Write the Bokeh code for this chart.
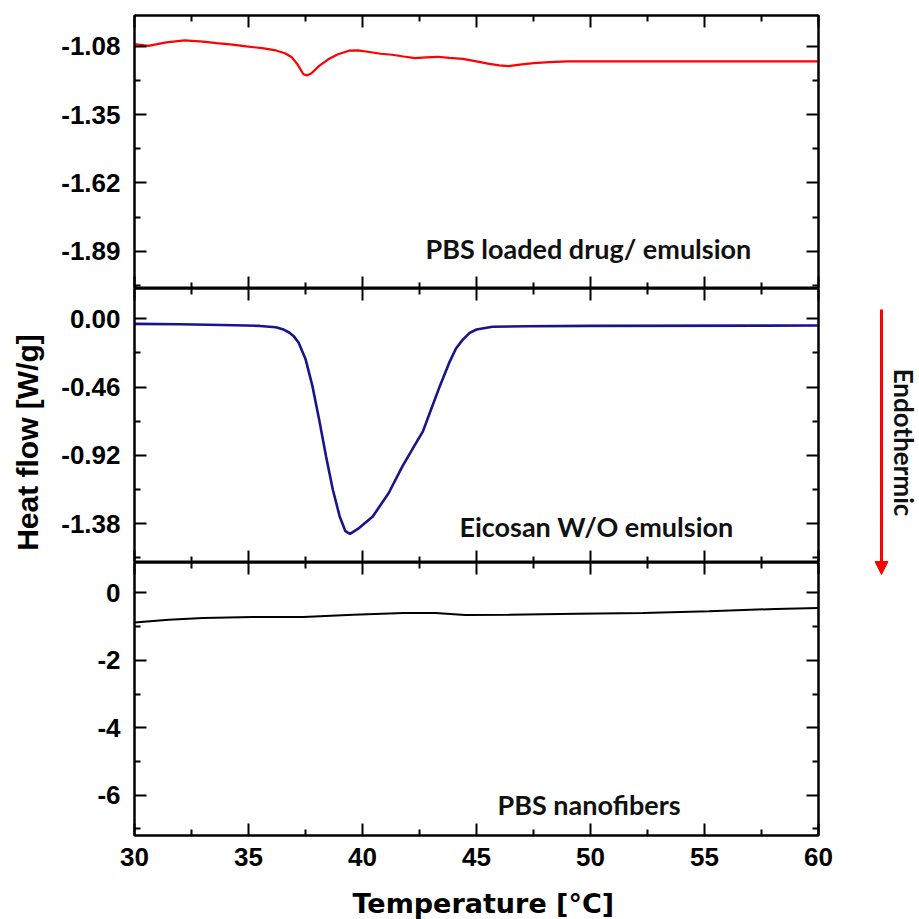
import math
from bokeh.plotting import figure
from bokeh.layouts import row, column
from bokeh.models import (FixedTicker, LinearAxis, Range1d, Label, Arrow, NormalHead,
                          PrintfTickFormatter, CustomLabelingPolicy)
from bokeh.embed import file_html
from bokeh.resources import INLINE

# ---------------- data ----------------
T_TICKS = [30, 35, 40, 45, 50, 55, 60]
T_MINOR = [32.5, 37.5, 42.5, 47.5, 52.5, 57.5]

red_T = [30.0, 30.6, 31.4, 32.2, 33.0, 33.6, 34.3, 34.9, 35.6, 36.2,
         36.6, 36.9, 37.15, 37.4, 37.55, 37.75, 38.1, 38.5, 38.9, 39.4,
         39.8, 40.3, 40.8, 41.3, 41.8, 42.3, 42.8, 43.3, 43.8, 44.4,
         45.0, 45.5, 46.0, 46.4, 46.9, 47.5, 48.2, 49.0, 50.0, 52.0,
         55.0, 58.0, 60.0]
red_H = [-1.072, -1.079, -1.065, -1.057, -1.062, -1.068, -1.074, -1.081, -1.088, -1.097,
         -1.108, -1.124, -1.152, -1.190, -1.196, -1.188, -1.158, -1.132, -1.113, -1.098,
         -1.097, -1.103, -1.110, -1.114, -1.121, -1.127, -1.124, -1.122, -1.126, -1.130,
         -1.140, -1.149, -1.156, -1.159, -1.153, -1.147, -1.143, -1.140, -1.140, -1.140,
         -1.140, -1.140, -1.140]

navy_T = [30.0, 32.0, 34.4, 35.5, 36.2, 36.5, 36.8, 37.0, 37.2, 37.5,
          37.8, 38.1, 38.4, 38.7, 39.0, 39.25, 39.45, 39.85, 40.45, 41.15,
          41.75, 42.35, 42.65, 42.95, 43.35, 43.8, 44.1, 44.4, 44.7, 45.0,
          45.7, 47.2, 50.0, 60.0]
navy_H = [-0.034, -0.037, -0.043, -0.048, -0.057, -0.070, -0.094, -0.120, -0.162, -0.270,
          -0.450, -0.679, -0.926, -1.151, -1.331, -1.430, -1.448, -1.409, -1.331, -1.173,
          -0.994, -0.836, -0.758, -0.634, -0.470, -0.297, -0.200, -0.140, -0.095, -0.072,
          -0.054, -0.050, -0.048, -0.045]

black_T = [30.0, 31.5, 33.0, 35.2, 37.4, 39.6, 41.8, 43.2, 44.5, 46.4, 49.4, 52.3, 55.2, 58.1, 60.0]
black_H = [-0.88, -0.80, -0.75, -0.72, -0.72, -0.65, -0.60, -0.60, -0.66, -0.65, -0.62, -0.60, -0.55, -0.48, -0.45]

top_ticks = [-1.08, -1.35, -1.62, -1.89]
top_minor = [-0.945, -1.215, -1.485, -1.755, -2.025]
mid_ticks = [0.0, -0.46, -0.92, -1.38]
mid_minor = [0.23, -0.23, -0.69, -1.15, -1.61]
bot_ticks = [0, -2, -4, -6]
bot_minor = [-1, -3, -5, -7]

top_range = (-2.037, -0.959)
mid_range = (-1.641, 0.204)
bot_range = (-7.193, 0.897)

panel_names = ["PBS loaded drug/ emulsion", "Eicosan W/O emulsion", "PBS nanofibers"]
x_title = "Temperature [°C]"
y_title = "Heat flow [W/g]"
side_text = "Endothermic"

TICK_FONT = "Liberation Sans"
NOTE_FONT = "Lato"


def style_axis(ax, ticks, minor, fmt, show_labels, standoff=14):
    ax.ticker = FixedTicker(ticks=ticks, minor_ticks=minor)
    ax.formatter = PrintfTickFormatter(format=fmt)
    ax.major_tick_in = 12
    ax.major_tick_out = 0
    ax.minor_tick_in = 6
    ax.minor_tick_out = 0
    ax.major_tick_line_width = 2
    ax.minor_tick_line_width = 2
    ax.major_tick_line_color = "black"
    ax.minor_tick_line_color = "black"
    ax.axis_line_width = 2
    ax.axis_line_color = "black"
    if show_labels:
        ax.major_label_text_font = TICK_FONT
        ax.major_label_text_font_style = "bold"
        ax.major_label_text_font_size = "26px"
        ax.major_label_text_color = "black"
        ax.major_label_standoff = standoff
    else:
        ax.major_label_policy = CustomLabelingPolicy(code="return []")
        ax.major_label_text_font_size = "0px"
        ax.major_label_standoff = 0


def panel(fh, yr, yt, ym, yfmt, bt, bb, xlabels, T, H, color, lw, name, nx, ny):
    p = figure(frame_width=684, frame_height=fh, x_range=Range1d(30, 60), y_range=Range1d(*yr),
               min_border_left=74, min_border_right=28, min_border_top=bt, min_border_bottom=bb,
               output_backend="svg", toolbar_location=None)
    p.grid.visible = False
    p.outline_line_color = "black"
    p.outline_line_width = 2
    bottom = p.below[0]
    style_axis(bottom, T_TICKS, T_MINOR, "%d", xlabels, standoff=12)
    style_axis(p.left[0], yt, ym, yfmt, True, standoff=14)
    top = LinearAxis()
    style_axis(top, T_TICKS, T_MINOR, "%d", False)
    p.add_layout(top, "above")
    right = LinearAxis()
    style_axis(right, yt, ym, yfmt, False)
    p.add_layout(right, "right")
    p.line(T, H, line_color=color, line_width=lw)
    p.add_layout(Label(x=nx, y=ny, text=name, text_font=NOTE_FONT, text_font_style="bold",
                       text_font_size="27px", text_color="#111111", text_baseline="alphabetic"))
    return p


p1 = panel(273, top_range, top_ticks, top_minor, "%.2f", 15, 0, False,
           red_T, red_H, "#ff0000", 2.2, panel_names[0], 42.76, -1.880)
p2 = panel(274, mid_range, mid_ticks, mid_minor, "%.2f", 0, 0, False,
           navy_T, navy_H, "#16168a", 2.6, panel_names[1], 44.25, -1.40)
p3 = panel(273, bot_range, bot_ticks, bot_minor, "%d", 0, 46, True,
           black_T, black_H, "black", 2.0, panel_names[2], 45.92, -6.276)

H_ALL = 919
P3_BOTTOM = 15 + 273 + 274 + 273 + 46
TITLE_H = H_ALL - P3_BOTTOM

# bottom strip with the x title
xt = figure(width=786, height=TITLE_H, x_range=Range1d(0, 786), y_range=Range1d(TITLE_H, 0),
            x_axis_type=None, y_axis_type=None, min_border=0, outline_line_color=None,
            output_backend="svg", toolbar_location=None)
xt.add_layout(Label(x=402, y=22, text=x_title, text_align="center", text_baseline="middle",
                    text_font="DejaVu Sans", text_font_style="bold", text_font_size="27px",
                    text_color="black"))

# left strip with the y title
left = figure(width=58, height=H_ALL, x_range=Range1d(0, 58), y_range=Range1d(H_ALL, 0),
              x_axis_type=None, y_axis_type=None, min_border=0, outline_line_color=None,
              output_backend="svg", toolbar_location=None)
left.add_layout(Label(x=27, y=442, text=y_title, angle=math.pi / 2, text_align="center",
                      text_baseline="middle", text_font=TICK_FONT, text_font_style="bold",
                      text_font_size="30px", text_color="black"))

# right strip with the arrow
right = figure(width=75, height=H_ALL, x_range=Range1d(0, 75), y_range=Range1d(H_ALL, 0),
               x_axis_type=None, y_axis_type=None, min_border=0, outline_line_color=None,
               output_backend="svg", toolbar_location=None)
right.add_layout(Arrow(x_start=35, y_start=309, x_end=35, y_end=574, line_color="#ff0000", line_width=3,
                       end=NormalHead(size=13, fill_color="#ff0000", line_color="#ff0000")))
right.add_layout(Label(x=57, y=442, text=side_text, angle=-math.pi / 2, text_align="center",
                       text_baseline="middle", text_font=NOTE_FONT, text_font_style="bold",
                       text_font_size="26px", text_color="#111111"))

layout = row(left, column(p1, p2, p3, xt), right)
open("out.html", "w").write(file_html(layout, INLINE))
